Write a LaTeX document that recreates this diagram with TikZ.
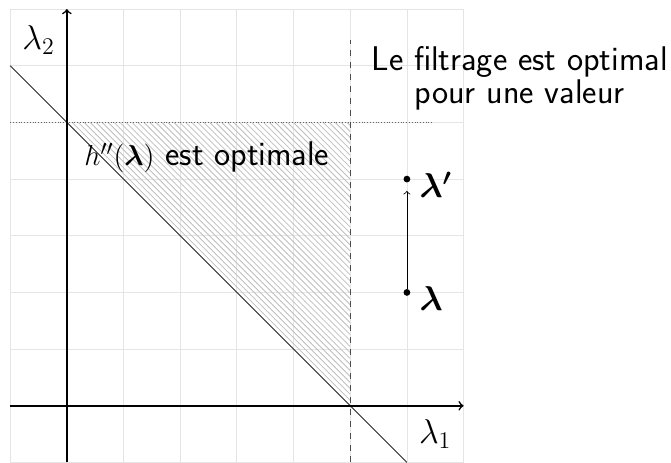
\documentclass[tikz,border=0pt]{standalone}
\usepackage{amsmath}
\usetikzlibrary{patterns}
\newcommand{\bigtxt}{\fontsize{16.4}{15}\selectfont}
\newcommand{\sanstxt}{\fontsize{17.2}{14}\selectfont\sffamily}
\begin{document}
\begin{tikzpicture}[x=1cm,y=1cm,
  axis/.style={thick,->},
  gridline/.style={gray!20,line width=0.4pt},
  dot/.style={circle,fill=black,inner sep=0pt,minimum size=3.4pt},
  lbl/.style={font=\bigtxt}]
\useasboundingbox (-1.18,-1) rectangle (10.66,7.16);
\draw[gridline] (-1,-1) grid (7,7);
\fill[pattern=north west lines,pattern color=gray!50] (0,5) -- (5,5) -- (5,0) -- cycle;
\draw[densely dotted,gray!80!black] (-1,5) -- (6.45,5);
\draw[dashed,black!70] (5,-1) -- (5,6.45);
\draw[black!85] (-1,6) -- (6,-1);
\coordinate (xs) at (-1,0); \coordinate (xe) at (7,0);
\coordinate (ys) at (0,-1); \coordinate (ye) at (0,7);
\draw[axis] (xs) -- (xe);
\draw[axis] (ys) -- (ye);
\node[lbl] (l1) at (6.5,-0.5) {$\lambda_1$};
\node[lbl] (l2) at (-0.5,6.45) {$\lambda_2$};
\node[font=\sanstxt,anchor=base] (hopt) at (2.47,4.24) {{\fontsize{15.5}{15}\selectfont$h''(\boldsymbol{\lambda})$} est optimale};
\node[font=\sanstxt,align=center,anchor=base] (filt) at (7.99,5.33) {Le filtrage est optimal\\pour une valeur};
\node[dot] (p) at (6,2) {};
\node[dot] (pp) at (6,4) {};
\node[lbl,anchor=west] (pl) at (6.1,1.9) {$\boldsymbol{\lambda}$};
\node[lbl,anchor=west] (ppl) at (6.1,3.9) {$\boldsymbol{\lambda'}$};
\draw[->,shorten >=4pt] (p) -- (pp);
\end{tikzpicture}
\end{document}
